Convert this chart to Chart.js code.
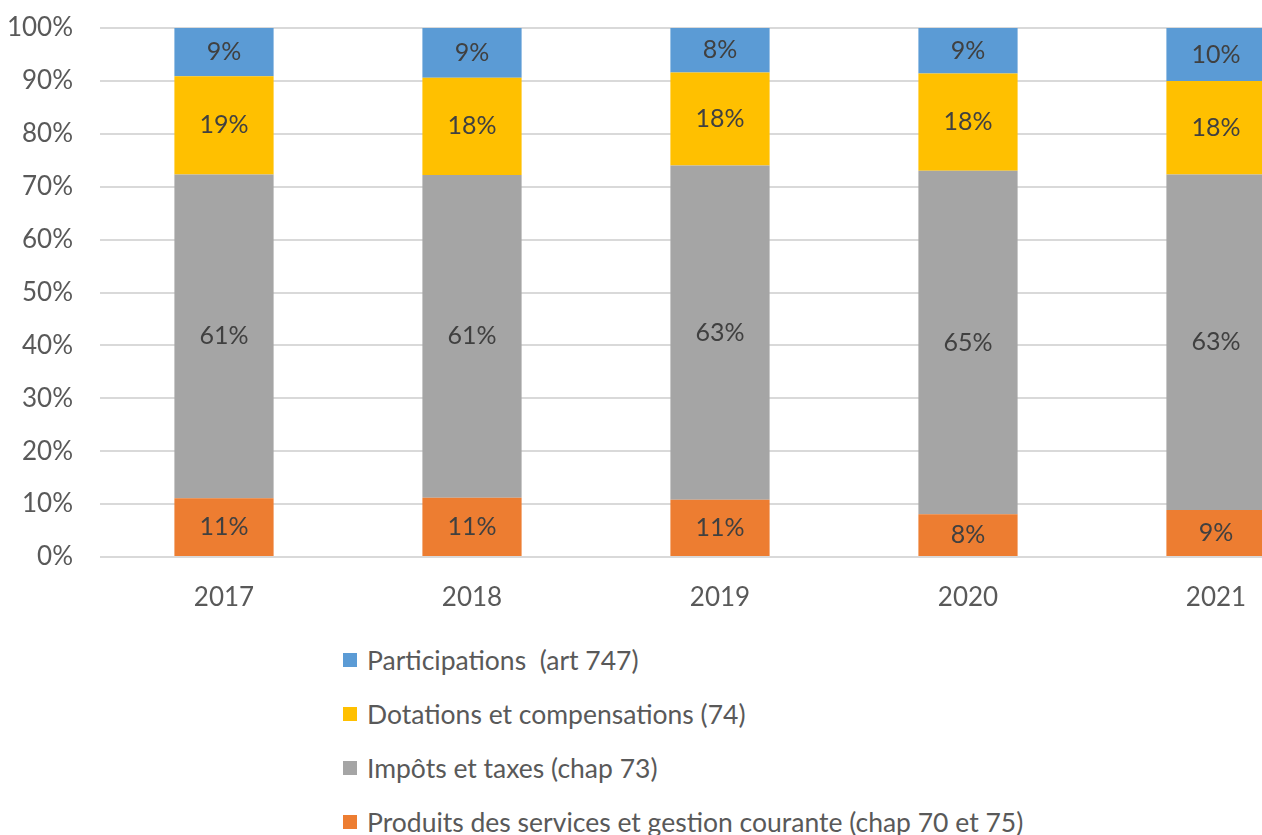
<!DOCTYPE html>
<html>
<head>
<meta charset="utf-8">
<script src="https://cdn.jsdelivr.net/npm/chart.js@4"></script>
<style>
  html, body { margin: 0; padding: 0; background: #fff; overflow: hidden; width: 1262px; height: 835px; }
  #wrap { position: relative; width: 1262px; height: 835px; overflow: hidden; }
  #c { position: absolute; left: 0; top: 0; }
  .leg { position: absolute; left: 343px; font-family: Lato, sans-serif; font-size: 26.5px; color: #595959; display: flex; align-items: center; line-height: 30px; white-space: nowrap; }
  .leg i { display: inline-block; width: 14px; height: 14px; margin-right: 10px; }
</style>
</head>
<body>
<div id="wrap">
  <canvas id="c" width="1340" height="620"></canvas>
  <div id="legend"></div>
</div>
<script>
const YEARS = ["2017", "2018", "2019", "2020", "2021"];

// parts en %
const PRODUITS       = [11.1, 11.2, 10.8, 8.1, 8.9];
const IMPOTS         = [61.2, 61.0, 63.2, 64.9, 63.4];
const DOTATIONS      = [18.6, 18.4, 17.6, 18.4, 17.7];
const PARTICIPATIONS = [9.1, 9.4, 8.4, 8.6, 10.0];

const Y_TICKS = [0, 10, 20, 30, 40, 50, 60, 70, 80, 90, 100];

const COLOR = {
  produits: "#ed7d31",
  impots:   "#a5a5a5",
  dotations:"#ffc000",
  particip: "#5b9bd5",
  grid:     "#d9d9d9",
  text:     "#595959",
  label:    "#404040",
};

const SERIES = [
  { label: "Produits des services et gestion courante (chap 70 et 75)", data: PRODUITS, color: COLOR.produits },
  { label: "Impôts et taxes (chap 73)", data: IMPOTS, color: COLOR.impots },
  { label: "Dotations et compensations (74)", data: DOTATIONS, color: COLOR.dotations },
  { label: "Participations  (art 747)", data: PARTICIPATIONS, color: COLOR.particip },
];

// étiquettes de valeur au centre de chaque segment
const segLabels = {
  id: "segLabels",
  afterDatasetsDraw(chart) {
    const ctx = chart.ctx;
    ctx.save();
    ctx.font = "25px Lato, sans-serif";
    ctx.fillStyle = COLOR.label;
    ctx.textAlign = "center";
    ctx.textBaseline = "middle";
    chart.data.datasets.forEach((ds, i) => {
      chart.getDatasetMeta(i).data.forEach((bar, j) => {
        const yc = (bar.y + bar.base) / 2;
        ctx.fillText(Math.round(ds.data[j]) + "%", bar.x, yc);
      });
    });
    ctx.restore();
  },
};

new Chart(document.getElementById("c"), {
  type: "bar",
  data: {
    labels: YEARS,
    datasets: SERIES.map((s) => ({
      label: s.label,
      data: s.data,
      backgroundColor: s.color,
      borderWidth: 0,
      categoryPercentage: 1,
      barPercentage: 0.4,
    })),
  },
  options: {
    responsive: false,
    animation: false,
    layout: { padding: { top: 28, right: 0, left: 0, bottom: 0 } },
    plugins: { legend: { display: false }, tooltip: { enabled: false } },
    scales: {
      x: {
        stacked: true,
        grid: { display: false, drawTicks: false },
        border: { display: false },
        ticks: { color: COLOR.text, font: { family: "Lato", size: 26 }, padding: 25 },
        afterFit: (s) => { s.height = 63; s.paddingLeft = 0; s.paddingRight = 0; },
      },
      y: {
        stacked: true,
        min: 0,
        max: 100,
        afterBuildTicks: (s) => { s.ticks = Y_TICKS.map((v) => ({ value: v })); },
        grid: { color: COLOR.grid, lineWidth: 2, drawTicks: false },
        border: { display: false },
        ticks: { color: COLOR.text, font: { family: "Lato", size: 26 }, padding: 27, callback: (v) => v + "%" },
        afterFit: (s) => { s.width = 100; s.paddingTop = 0; s.paddingBottom = 0; },
      },
    },
  },
  plugins: [segLabels],
});

// légende verticale sous le graphique
const legendRows = [SERIES[3], SERIES[2], SERIES[1], SERIES[0]];
const LEG_TOP = [645, 699, 753, 807];
const legEl = document.getElementById("legend");
legendRows.forEach((s, i) => {
  const d = document.createElement("div");
  d.className = "leg";
  d.style.top = LEG_TOP[i] + "px";
  d.innerHTML = `<i style="background:${s.color}"></i><span>${s.label.replace(/  /g, " &nbsp;")}</span>`;
  legEl.appendChild(d);
});
</script>
</body>
</html>
